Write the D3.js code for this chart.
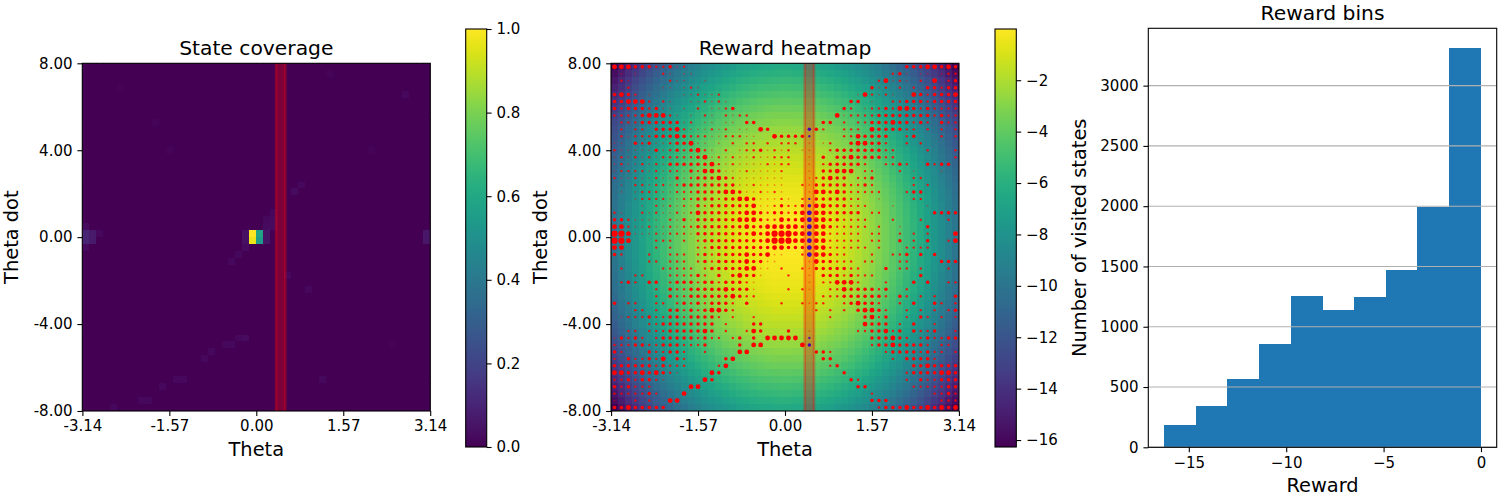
<!DOCTYPE html>
<html>
<head>
<meta charset="utf-8">
<script src="https://cdn.jsdelivr.net/npm/d3@7"></script>
<style>
  body { margin: 0; background: #fff; }
  text { font-family: "DejaVu Sans", sans-serif; }
</style>
</head>
<body>
<svg id="fig" width="1500" height="500"></svg>
<script>
// ---- data ----
const nCells = 50;
const thetaTicks = [-3.14, -1.57, 0, 1.57, 3.14];
const thetaDotTicks = [-8, -4, 0, 4, 8];
const coverTicks = [0, 0.2, 0.4, 0.6, 0.8, 1.0];
const rewardTicks = [-16, -14, -12, -10, -8, -6, -4, -2];
const rewardRange = [-16.27, -0.007];
const bandTheta = [0.356, 0.524];

// penalty per theta column and per theta-dot row (reward = -(col + row))
const thetaCost = [9.870, 9.081, 8.324, 7.601, 6.910, 6.252, 5.628, 5.036, 4.476, 3.950,
  3.457, 2.997, 2.569, 2.174, 1.813, 1.484, 1.188, 0.925, 0.695, 0.497,
  0.333, 0.201, 0.103, 0.037, 0.004, 0.004, 0.037, 0.103, 0.201, 0.333,
  0.497, 0.695, 0.925, 1.188, 1.484, 1.813, 2.174, 2.569, 2.997, 3.457,
  3.950, 4.476, 5.036, 5.628, 6.252, 6.910, 7.601, 8.324, 9.081, 9.870];
const thetaDotCost = [6.400, 5.888, 5.398, 4.929, 4.481, 4.054, 3.649, 3.265, 2.903, 2.562,
  2.242, 1.943, 1.666, 1.410, 1.176, 0.962, 0.770, 0.600, 0.450, 0.323,
  0.216, 0.131, 0.067, 0.024, 0.003, 0.003, 0.024, 0.067, 0.131, 0.216,
  0.323, 0.450, 0.600, 0.770, 0.962, 1.176, 1.410, 1.666, 1.943, 2.242,
  2.562, 2.903, 3.265, 3.649, 4.054, 4.481, 4.929, 5.398, 5.888, 6.400];

// state coverage: [column, row(from top), value], everything else is 0
const coverCells = [
  [24,24,1.0],[24,25,0.97],[25,24,0.58],[25,25,0.55],
  [0,24,0.1],[0,25,0.1],[1,24,0.07],[1,25,0.07],[0,23,0.03],[0,26,0.03],[2,24,0.02],
  [49,24,0.06],[49,25,0.06],
  [23,24,0.04],[23,25,0.04],[23,26,0.03],[26,23,0.03],[26,24,0.05],[26,25,0.05],
  [27,22,0.03],[27,23,0.03],[26,22,0.02],[27,21,0.02],[22,27,0.02],[21,28,0.02],
  [23,39,0.03],[22,39,0.02],[21,40,0.02],[20,40,0.02],[18,41,0.02],[17,42,0.02],
  [14,45,0.02],[13,45,0.02],[11,46,0.02],[8,48,0.02],[9,48,0.02],[4,49,0.02],
  [30,18,0.03],[31,17,0.02],[32,32,0.02],[34,45,0.02],[46,4,0.02],[35,1,0.01],
  [29,30,0.02],[41,12,0.01],[10,8,0.01],[5,3,0.01],[44,40,0.01],[12,12,0.01]
];

// visited-state markers: digit = red marker size level, b/c/d = blue size 2/3/4
const dotRows = [
  "44433 32231 2.... ..... ..... ..... ..... ..... ..333 44343",
  ".1.1. ..21. 11... ..... ..... ..... ..... ..... 231.1 1.122",
  ".21.. ...21 1..1. ..... ..... ..... ..... ...24 121.2 .4.23",
  "..2.. ..11. 121.. ..... ..... ..... ..... ..312 .2.2. 33233",
  "3432. 1.... 11211 2.... ..... ..... ..... 14212 1..43 23334",
  "33444 2.21. .1121 21... ..... ..... ....3 3.1.. 22333 23333",
  "32333 2311. 1.2.1 123.. ..... ..... ...32 .1223 24432 32222",
  "22223 44421 .1.21 .2122 ..... ..... ..412 22233 33333 32322",
  ".2223 33333 12.11 .11.3 3.... ..... 33.2. 22333 43323 2.322",
  ".2.22 .3334 21112 12.11 .43.. ...c3 2..22 2.433 3322. 2.2.2",
  ".2122 23334 32221 12221 1..43 333b. ...22 43333 ..23. ..2.2",
  "11.32 31123 3411. 1.2.2 2.2.2 22.1. 12..3 44332 ..2.2 .....",
  "21111 13123 23421 .2.12 23121 2.11. .2333 33332 2.... 2...2",
  "12121 21222 22341 21211 21122 2..1. 3.334 33332 2.... ....2",
  "12112 12133 33334 21211 11212 2..1. 23333 32..2 232.. 3233.",
  "12222 12122 13244 31112 11112 ...1. 33444 .22.. .2.1. ..1..",
  "21121 12113 12333 43211 11111 ...12 3433. 223.. ...22 .....",
  ".1.22 12212 33333 33311 21111 ..213 33332 232.. ...2. 2....",
  ".1.12 22112 22333 34431 12121 ...14 43432 2222. ..233 .....",
  "...12 22211 22333 23344 31112 1.2b3 33332 2..1. ...22 .....",
  "....1 .2121 21323 33333 41123 223c4 43332 22... 1.... 1....",
  "21..2 12112 12433 33334 43233 234d4 43333 3.22. ..... .3333",
  "33211 11.21 31333 33344 43224 334d4 43322 22... 2...2 ...2.",
  "44211 21121 22333 33334 33444 443d4 43222 22.2. .1... 3....",
  "55411 12122 21333 33333 43455 544d4 42222 2.22. .2.2. 2...4",
  "554.. .222. 2.233 33333 33455 544d4 42222 2.22. .3.2. 3..24",
  "44... .2.2. ..223 33333 33344 333d4 42222 22.2. ..222 2....",
  "32... 2..22 2.232 33334 33411 ..2d4 4322. ..2.. 223.3 .3...",
  "..... 22.22 2.232 33334 3311. ...14 33222 .22.. .22.. ..333",
  ".2... ..222 22.23 33334 411.2 ..213 33332 2...3 .22.2 ...2.",
  "...22 ...22 2232. 3.343 31... 2..1. 33323 222.. ....3 .....",
  ".232. 33.23 33233 23332 1.... ...1. 22444 2...2 ...3. 3..22",
  "..... .2.32 23333 34333 1.... 2.21. .2243 33323 ..2.. .....",
  "..... .2.32 23333 33432 2.... ..... 22233 33332 .32.2 .2..3",
  "3.22. .22.2 32323 332.3 ....2 ..212 2..23 4332. .2.3. .32.2",
  "...22 .2.33 23234 432.. ..... ....2 .2.2. 34432 ..2.2 .2.23",
  ".1222 32233 23333 2.2.. 2.... ..... .2... .3423 ..2.3 2.2.2",
  "..... 22333 33333 .2... 33... ..... ..... .4333 .2.3. .2...",
  "..22. 22233 33343 .2..2 43... 3..1. ..... 22334 23.32 23..2",
  "13232 .2333 33232 2.23. 3.444 44.b. ..... ..333 432.2 32233",
  "22233 22333 2223. ...3. 44... ..4c. ..... ..233 43333 2.22.",
  "32... 32233 2..2. ...44 ..... ....3 32... ....2 33332 322.2",
  "2.322 324.3 2.... .34.. ..... ..... 33... ..... 2.333 32...",
  "33333 32322 2.... 24... ..... ..... .23.. ..... ...33 43333",
  "44334 34321 ....4 3.... ..... ..... ...3. ..... ..233 33443",
  "22323 321.. ...43 ..... ..... ..... ....3 2.... ..2.3 22333",
  "32322 2.... .44.. ..... ..... ..... ..... 33... ...22 22233",
  "22222 32... 4.... ..... ..... ..... ..... ..2.. ..... .2232",
  "1..2. 2..44 ..... ..... ..... ..... ..... ..333 ..... ..222",
  "33433 333.. ..... ..... ..... ..... ..... ...23 33433 43434"
];

// reward histogram
const binEdges = [-16.27, -14.64, -13.02, -11.39, -9.77, -8.14, -6.51, -4.89, -3.26, -1.64, -0.01];
const binCounts = [185, 340, 565, 855, 1258, 1135, 1250, 1474, 1995, 3310];
const countTicks = [0, 500, 1000, 1500, 2000, 2500, 3000];
const rewardAxisTicks = [-15, -10, -5, 0];

// ---- layout ----
const FONT = "DejaVu Sans";
const TICK = 15, TITLE = 20.3, LABEL = 19.4;
const TL = 4.9, TP = 4.9, LW = 1.1;
const P1 = {x0: 82.3, x1: 430.3, y0: 63.3, y1: 411};
const P2 = {x0: 611, x1: 959, y0: 63.3, y1: 411};
const P3 = {x0: 1148.3, x1: 1496.7, y0: 28.3, y1: 447.3};
const CB1 = {x0: 465.7, x1: 486.7, y0: 29, y1: 447};
const CB2 = {x0: 995, x1: 1016.3, y0: 29, y1: 447};

const svg = d3.select("#fig");
const defs = svg.append("defs");

const grad = defs.append("linearGradient").attr("id", "viridis")
  .attr("x1", 0).attr("y1", 1).attr("x2", 0).attr("y2", 0);
d3.range(0, 1.0001, 0.02).forEach(t =>
  grad.append("stop").attr("offset", t).attr("stop-color", d3.interpolateViridis(t)));

function styleAxis(g) {
  g.attr("font-family", FONT).attr("font-size", TICK);
  g.select(".domain").remove();
  g.selectAll(".tick line").attr("stroke", "#000").attr("stroke-width", LW);
  g.selectAll(".tick text").attr("fill", "#000");
}

function frame(box) {
  svg.append("rect").attr("x", box.x0).attr("y", box.y0)
    .attr("width", box.x1 - box.x0).attr("height", box.y1 - box.y0)
    .attr("fill", "none").attr("stroke", "#000").attr("stroke-width", LW);
}

function title(box, txt, y) {
  svg.append("text").attr("x", (box.x0 + box.x1) / 2).attr("y", y)
    .attr("text-anchor", "middle").attr("font-size", TITLE).text(txt);
}

function xLabel(box, txt, y) {
  svg.append("text").attr("x", (box.x0 + box.x1) / 2).attr("y", y)
    .attr("text-anchor", "middle").attr("font-size", LABEL).text(txt);
}

function yLabel(box, txt, x) {
  svg.append("text")
    .attr("transform", `translate(${x},${(box.y0 + box.y1) / 2}) rotate(-90)`)
    .attr("text-anchor", "middle").attr("font-size", LABEL).text(txt);
}

// heatmap panel with theta / theta dot axes
function heatPanel(box, id, valueAt, color) {
  defs.append("clipPath").attr("id", id)
    .append("rect").attr("x", box.x0).attr("y", box.y0)
    .attr("width", box.x1 - box.x0).attr("height", box.y1 - box.y0);
  const g = svg.append("g").attr("clip-path", `url(#${id})`);
  const xb = d3.scaleBand().domain(d3.range(nCells)).range([box.x0, box.x1]);
  const yb = d3.scaleBand().domain(d3.range(nCells)).range([box.y0, box.y1]);
  const cells = [];
  for (let r = 0; r < nCells; r++)
    for (let c = 0; c < nCells; c++) cells.push({c, r, v: valueAt(c, r)});
  g.append("g").attr("shape-rendering", "crispEdges")
    .selectAll("rect").data(cells).join("rect")
    .attr("x", d => xb(d.c)).attr("y", d => yb(d.r))
    .attr("width", xb.bandwidth() + 0.6).attr("height", yb.bandwidth() + 0.6)
    .attr("fill", d => color(d.v));

  const x = d3.scaleLinear().domain([-Math.PI, Math.PI]).range([box.x0, box.x1]);
  const y = d3.scaleLinear().domain([-8, 8]).range([box.y1, box.y0]);
  svg.append("g").attr("transform", `translate(0,${box.y1})`)
    .call(d3.axisBottom(x).tickValues(thetaTicks).tickFormat(d => d.toFixed(2))
      .tickSize(TL).tickPadding(TP))
    .call(styleAxis);
  svg.append("g").attr("transform", `translate(${box.x0},0)`)
    .call(d3.axisLeft(y).tickValues(thetaDotTicks).tickFormat(d => d.toFixed(2))
      .tickSize(TL).tickPadding(TP))
    .call(styleAxis);
  return {g, x, y, xb, yb};
}

function band(p) {
  p.g.append("rect")
    .attr("x", p.x(bandTheta[0])).attr("y", p.y(8) - 3)
    .attr("width", p.x(bandTheta[1]) - p.x(bandTheta[0]))
    .attr("height", p.y(-8) - p.y(8) + 6)
    .attr("fill", "red").attr("fill-opacity", 0.3)
    .attr("stroke", "red").attr("stroke-opacity", 0.3).attr("stroke-width", 2.7);
}

function colorbar(box, scale, ticks, fmt) {
  svg.append("rect").attr("x", box.x0).attr("y", box.y0)
    .attr("width", box.x1 - box.x0).attr("height", box.y1 - box.y0)
    .attr("fill", "url(#viridis)");
  frame(box);
  svg.append("g").attr("transform", `translate(${box.x1},0)`)
    .call(d3.axisRight(scale).tickValues(ticks).tickFormat(fmt).tickSize(TL).tickPadding(TP))
    .call(styleAxis);
}

// ---- panel 1: state coverage ----
const coverGrid = d3.range(nCells).map(() => new Array(nCells).fill(0));
coverCells.forEach(([c, r, v]) => { coverGrid[r][c] = v; });
const coverColor = d3.scaleSequential(d3.interpolateViridis).domain([0, 1]);
const p1 = heatPanel(P1, "clip1", (c, r) => coverGrid[r][c], coverColor);
band(p1);
frame(P1);
title(P1, "State coverage", 55);
xLabel(P1, "Theta", 456);
yLabel(P1, "Theta dot", 18.3);
colorbar(CB1, d3.scaleLinear().domain([0, 1]).range([CB1.y1, CB1.y0]), coverTicks, d3.format(".1f"));

// ---- panel 2: reward heatmap ----
const rewardColor = d3.scaleSequential(d3.interpolateViridis).domain(rewardRange);
const p2 = heatPanel(P2, "clip2", (c, r) => -(thetaCost[c] + thetaDotCost[r]), rewardColor);

const dots = [];
dotRows.forEach((row, r) => {
  row.replace(/ /g, "").split("").forEach((ch, c) => {
    if (ch === ".") return;
    if ("bcd".includes(ch)) dots.push({c, r, lvl: "bcd".indexOf(ch) + 2, col: "blue"});
    else dots.push({c, r, lvl: +ch, col: "red"});
  });
});
const radius = d3.scaleOrdinal().domain([1, 2, 3, 4, 5]).range([0.9, 1.2, 1.75, 2.4, 3.1]);
const alpha = d3.scaleOrdinal().domain([1, 2, 3, 4, 5]).range([0.4, 0.85, 1, 1, 1]);
p2.g.append("g").selectAll("circle").data(dots).join("circle")
  .attr("cx", d => p2.xb(d.c) + p2.xb.bandwidth() / 2)
  .attr("cy", d => p2.yb(d.r) + p2.yb.bandwidth() / 2)
  .attr("r", d => radius(d.lvl))
  .attr("fill", d => d.col === "blue" ? "#0000ff" : "#ff0000")
  .attr("fill-opacity", d => alpha(d.lvl));
band(p2);
frame(P2);
title(P2, "Reward heatmap", 55);
xLabel(P2, "Theta", 456);
yLabel(P2, "Theta dot", 546.7);
colorbar(CB2, d3.scaleLinear().domain(rewardRange).range([CB2.y1, CB2.y0]), rewardTicks, d3.format("d"));

// ---- panel 3: reward histogram ----
const hx = d3.scaleLinear().domain([-17.08, 0.807]).range([P3.x0, P3.x1]);
const hy = d3.scaleLinear().domain([0, 3475.5]).range([P3.y1, P3.y0]);
const bins = binCounts.map((n, i) => ({x0: binEdges[i], x1: binEdges[i + 1], n}));
svg.append("g").attr("shape-rendering", "crispEdges")
  .selectAll("rect").data(bins).join("rect")
  .attr("x", d => hx(d.x0)).attr("y", d => hy(d.n))
  .attr("width", d => hx(d.x1) - hx(d.x0) + 0.6).attr("height", d => hy(0) - hy(d.n))
  .attr("fill", "#1f77b4");
svg.append("g").selectAll("line").data(countTicks).join("line")
  .attr("x1", P3.x0).attr("x2", P3.x1)
  .attr("y1", d => hy(d)).attr("y2", d => hy(d))
  .attr("stroke", "#b0b0b0").attr("stroke-width", LW);
svg.append("g").attr("transform", `translate(0,${P3.y1})`)
  .call(d3.axisBottom(hx).tickValues(rewardAxisTicks).tickFormat(d3.format("d")).tickSize(TL).tickPadding(TP))
  .call(styleAxis);
svg.append("g").attr("transform", `translate(${P3.x0},0)`)
  .call(d3.axisLeft(hy).tickValues(countTicks).tickFormat(d3.format("d")).tickSize(TL).tickPadding(TP))
  .call(styleAxis);
frame(P3);
title(P3, "Reward bins", 20);
xLabel(P3, "Reward", 492);
yLabel(P3, "Number of visited states", 1086);
</script>
</body>
</html>
